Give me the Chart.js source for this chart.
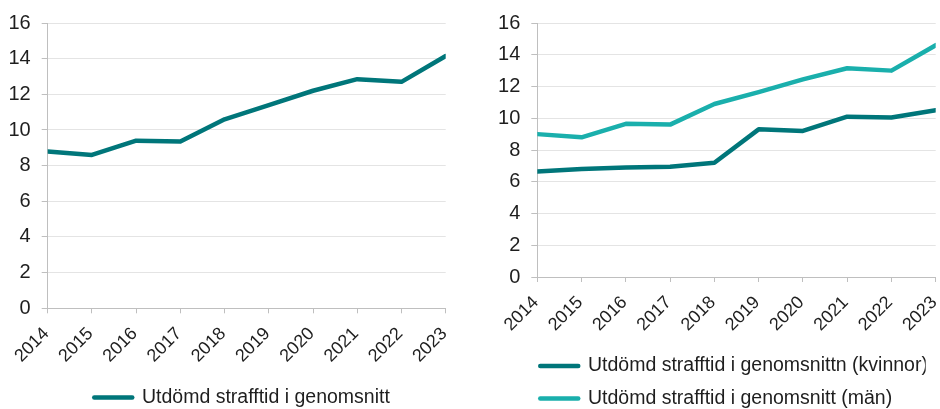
<!DOCTYPE html>
<html lang="sv">
<head>
<meta charset="utf-8">
<title>Utdömd strafftid i genomsnitt</title>
<script src="https://cdn.jsdelivr.net/npm/chart.js@4/dist/chart.umd.min.js"></script>
<style>
  html, body { margin: 0; padding: 0; background: #fff; overflow: hidden; }
  canvas { position: absolute; top: 0; }
  #chart-total { left: 0; }
  #chart-gender { left: 480px; }
</style>
</head>
<body>
<canvas id="chart-total" width="470" height="409"></canvas>
<canvas id="chart-gender" width="460" height="409"></canvas>
<script>
"use strict";

const years = ["2014", "2015", "2016", "2017", "2018", "2019", "2020", "2021", "2022", "2023"];
const yTicks = [0, 2, 4, 6, 8, 10, 12, 14, 16];

// left chart
const total = [8.8, 8.6, 9.4, 9.35, 10.6, 11.4, 12.2, 12.85, 12.7, 14.15];
// right chart
const women = [6.65, 6.8, 6.9, 6.95, 7.2, 9.3, 9.2, 10.1, 10.05, 10.5];
const men = [9.0, 8.8, 9.65, 9.6, 10.9, 11.65, 12.45, 13.15, 13.0, 14.6];

const labelTotal = "Utdömd strafftid i genomsnitt";
const labelWomen = "Utdömd strafftid i genomsnittn (kvinnor)";
const labelMen = "Utdömd strafftid i genomsnitt (män)";

const dark = "#00767a";
const light = "#1aafac";
const textColor = "#1e1e1e";
const gridGrey = "#e4e4e4";
const axisGrey = "#bfbfbf";
const family = "'Liberation Sans', Arial, sans-serif";
const lineWidth = 4.5;
const legendSize = 19.5;
const legendLine = 38;

// puts the legend at a fixed spot below the plot (x = start of the line, y = centre of first row)
const legendSpot = {
  id: "legendSpot",
  afterLayout(chart, args, opts) {
    const lg = chart.legend;
    lg.left = opts.x - opts.padding;
    lg.right = lg.left + lg.width;
    lg.top = opts.y - opts.padding - legendSize / 2;
    lg.bottom = lg.top + lg.height;
  }
};

// legend lines as thick as the plotted lines, with round ends
function legendLabels(chart) {
  const items = Chart.defaults.plugins.legend.labels.generateLabels(chart);
  items.forEach(item => {
    item.lineWidth = lineWidth;
    item.lineCap = "round";
  });
  return items;
}

function makeChart(id, datasets, spot) {
  return new Chart(document.getElementById(id), {
    type: "line",
    data: {
      labels: years,
      datasets: datasets
    },
    options: {
      responsive: false,
      animation: false,
      layout: { padding: spot.padding },
      elements: {
        point: { radius: 0, hoverRadius: 0 },
        line: { tension: 0, borderWidth: lineWidth, borderCapStyle: "round", borderJoinStyle: "round" }
      },
      scales: {
        x: {
          grid: { drawOnChartArea: false, drawTicks: true, tickLength: 5, tickColor: axisGrey },
          border: { color: axisGrey },
          ticks: {
            color: textColor,
            font: { family: family, size: 18 },
            minRotation: 45,
            maxRotation: 45,
            autoSkip: false,
            padding: 10,
            labelOffset: -1.5
          },
          afterFit(scale) {
            scale.height = 58;
            scale.paddingLeft = 0;
            scale.paddingRight = 0;
          }
        },
        y: {
          min: yTicks[0],
          max: yTicks[yTicks.length - 1],
          grid: { color: gridGrey, tickColor: axisGrey, tickLength: 6 },
          border: { color: axisGrey },
          ticks: {
            stepSize: yTicks[1] - yTicks[0],
            color: textColor,
            font: { family: family, size: 20 },
            padding: 11
          },
          afterFit(scale) {
            scale.width = spot.yWidth;
          }
        }
      },
      plugins: {
        legend: {
          position: "chartArea",
          align: "start",
          labels: {
            color: textColor,
            font: { family: family, size: legendSize },
            usePointStyle: true,
            pointStyle: "line",
            pointStyleWidth: legendLine,
            padding: spot.legendPadding,
            generateLabels: legendLabels
          }
        },
        tooltip: { enabled: false },
        legendSpot: { x: spot.legendX, y: spot.legendY, padding: spot.legendPadding }
      }
    },
    plugins: [legendSpot]
  });
}

makeChart("chart-total", [
  { label: labelTotal, data: total, borderColor: dark, backgroundColor: dark, clip: 0 }
], {
  padding: { top: 21, left: 0, right: 24.3, bottom: 42.7 },
  yWidth: 47.7,
  legendX: 142 - legendLine - legendSize / 2,
  legendY: 397.5,
  legendPadding: 12
});

makeChart("chart-gender", [
  { label: labelWomen, data: women, borderColor: dark, backgroundColor: dark, clip: 0 },
  { label: labelMen, data: men, borderColor: light, backgroundColor: light, clip: 0 }
], {
  padding: { top: 21, left: 0, right: 4.3, bottom: 74 },
  yWidth: 57.3,
  legendX: 108 - legendLine - legendSize / 2,
  legendY: 366,
  legendPadding: 13
});
</script>
</body>
</html>
